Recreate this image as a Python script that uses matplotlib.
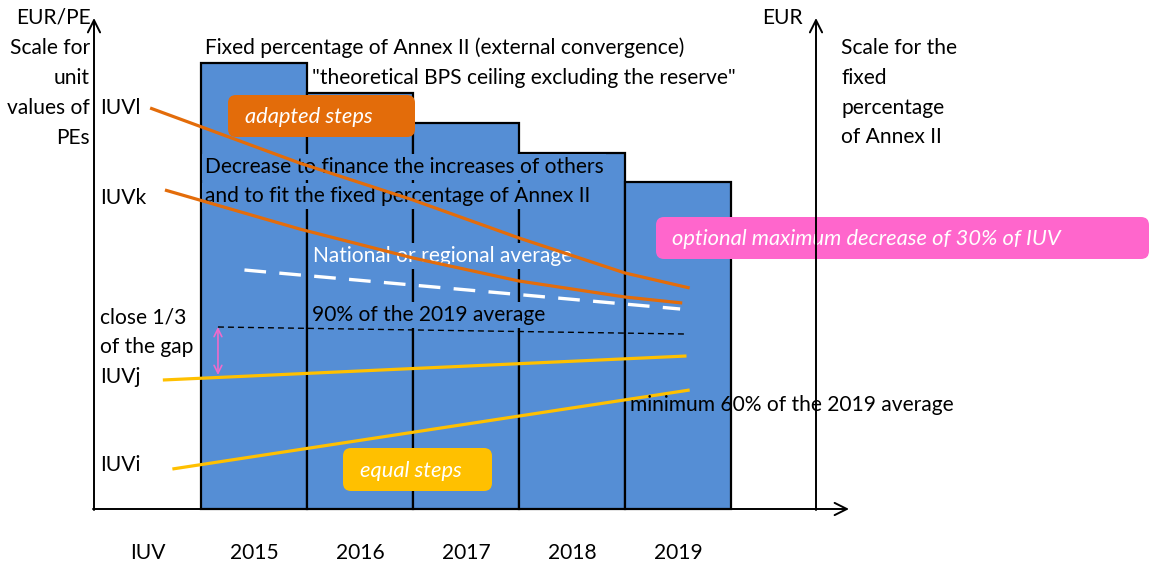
import matplotlib
matplotlib.use('Agg')
import matplotlib.pyplot as plt
from matplotlib.patches import FancyBboxPatch

# -- data (y in the EUR/PE drawing scale) --
years = [2015, 2016, 2017, 2018, 2019]
annex_ii = [446, 416, 386, 356, 327]          # fixed percentage of Annex II

iuvl_x = [2014.02, 2015.43, 2016.5, 2017.5, 2018.5, 2019.11]
iuvl_y = [401, 346, 309, 271, 236, 221]
iuvk_x = [2014.16, 2015.43, 2016.5, 2017.5, 2018.5, 2019.04]
iuvk_y = [319, 280, 251, 228, 212, 206]
avg_x = [2014.91, 2019.02]                    # national or regional average
avg_y = [239, 200]
avg90_x = [2014.66, 2019.06]                  # 90% of the 2019 average
avg90_y = [182, 175]
iuvj_x = [2014.14, 2019.08]
iuvj_y = [129, 153]
iuvi_x = [2014.23, 2019.11]
iuvi_y = [40, 119]

blue = '#558ED5'
orange = '#E36C0A'
yellow = '#FFC000'
pink = '#FF66CC'

plt.rcParams['font.family'] = ['Lato', 'DejaVu Sans']

# pixel layout helpers (for placing text / boxes only)
X0, XS, Y0 = 254, 106, 509
def X(px):
    return 2015 + (px - X0) / XS
def Y(py):
    return Y0 - py

fig = plt.figure(figsize=(11.5, 5.65), dpi=100)
ax = fig.add_axes([0, 0, 1, 1])
ax.set_xlim(X(0), X(1150))
ax.set_ylim(Y(565), Y(0))
ax.axis('off')

def fit(s, width, **kw):
    t = fig.text(0, 0, s, fontsize=10, **kw)
    w = t.get_window_extent(renderer=fig.canvas.get_renderer()).width
    t.remove()
    return 10 * width / w

fs = fit('Fixed percentage of Annex II (external convergence)', 480)
fs_it = fit('optional maximum decrease of 30% of IUV', 388, style='italic')

# bars
ax.bar(years, annex_ii, width=1, color=blue, edgecolor='black', linewidth=1.6, zorder=1)

# lines
ax.plot(iuvl_x, iuvl_y, color=orange, lw=2.3, zorder=3, solid_capstyle='butt')
ax.plot(iuvk_x, iuvk_y, color=orange, lw=2.3, zorder=3, solid_capstyle='butt')
ax.plot(avg_x, avg_y, color='white', lw=2.4, dashes=(6.5, 4), zorder=3)
ax.plot(avg90_x, avg90_y, color='black', lw=1.0, dashes=(4.3, 2.9), zorder=3)
ax.plot(iuvj_x, iuvj_y, color=yellow, lw=2.3, zorder=3, solid_capstyle='butt')
ax.plot(iuvi_x, iuvi_y, color=yellow, lw=2.3, zorder=3, solid_capstyle='butt')

# gap arrow
ax.annotate('', xy=(avg90_x[0], avg90_y[0]), xytext=(avg90_x[0], Y(375)),
            arrowprops=dict(arrowstyle='<->', color='#EE6BCB', lw=1.2,
                            mutation_scale=14, shrinkA=0, shrinkB=0), zorder=3)

# axes with arrows
arr = dict(arrowstyle='->', color='black', lw=1.4, mutation_scale=22, shrinkA=0, shrinkB=0)
ax.annotate('', xy=(X(94), Y(18)), xytext=(X(94), Y(510)), arrowprops=arr, zorder=5)
ax.annotate('', xy=(X(816), Y(18)), xytext=(X(816), Y(510)), arrowprops=arr, zorder=5)
ax.annotate('', xy=(X(849), Y(509)), xytext=(X(93), Y(509)), arrowprops=arr, zorder=5)

def rbox(x0, y0, x1, y1, color):
    ax.add_patch(FancyBboxPatch((X(x0), Y(y1)), (x1 - x0) / XS, y1 - y0,
                                boxstyle='round,pad=0,rounding_size=%f' % (8 / XS),
                                mutation_aspect=XS, fc=color, ec='none', zorder=2))

rbox(228, 95, 415, 137, orange)
rbox(343, 448, 492, 491, yellow)
rbox(656, 217, 1149, 259, pink)

def txt(px, py, s, ha='left', color='black', bg=None, italic=False, z=4):
    kw = {}
    if bg:
        kw['bbox'] = dict(boxstyle='square,pad=0.12', fc=bg, ec='none')
        z = 2
    ax.text(X(px), Y(py), s, ha=ha, va='center', color=color,
            fontsize=fs_it if italic else fs, style='italic' if italic else 'normal',
            zorder=z, **kw)

# left scale
txt(91, 18, 'EUR/PE', ha='right')
for s, py in zip(['Scale for', 'unit', 'values of', 'PEs'], [48, 78, 108, 138]):
    txt(90, py, s, ha='right')
txt(100, 108, 'IUVl')
txt(100, 198, 'IUVk')
txt(100, 317, 'close 1/3')
txt(100, 347, 'of the gap')
txt(100, 377, 'IUVj')
txt(100, 465, 'IUVi')

# titles and notes
txt(205, 48, 'Fixed percentage of Annex II (external convergence)')
txt(312, 78, '"theoretical BPS ceiling excluding the reserve"')
txt(245, 117, 'adapted steps', color='white', italic=True)
txt(205, 167, 'Decrease to finance the increases of others', bg=blue)
txt(205, 196, 'and to fit the fixed percentage of Annex II', bg=blue)
txt(313, 256, 'National or regional average', color='white', bg=blue)
txt(312, 315, '90% of the 2019 average', bg=blue)
txt(630, 405, 'minimum 60% of the 2019 average')
txt(360, 471, 'equal steps', color='white', italic=True)
txt(672, 239, 'optional maximum decrease of 30% of IUV', color='white', italic=True)

# right scale
txt(803, 18, 'EUR', ha='right')
for s, py in zip(['Scale for the', 'fixed', 'percentage', 'of Annex II'], [48, 78, 108, 137]):
    txt(841, py, s)

# x labels
txt(148, 553, 'IUV', ha='center')
for yr in years:
    ax.text(yr, Y(553), str(yr), ha='center', va='center', fontsize=fs, zorder=4)

fig.savefig('out.png', dpi=100)
